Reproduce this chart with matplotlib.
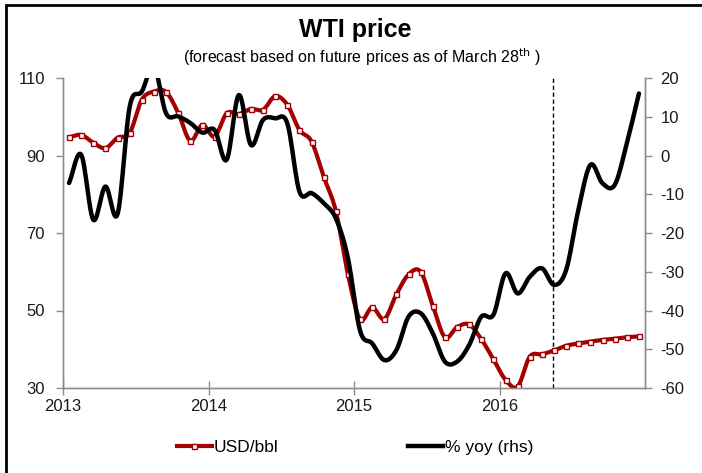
import numpy as np
import matplotlib
matplotlib.use("Agg")
import matplotlib.pyplot as plt
from matplotlib.lines import Line2D
from matplotlib.patches import Rectangle

plt.rcParams['font.family'] = ['Liberation Sans', 'DejaVu Sans']
plt.rcParams['axes.unicode_minus'] = False

# monthly data, Jan 2013 .. Dec 2016 (plotted at mid-month)
usd_bbl = [94.7, 95.3, 93.3, 91.9, 94.6, 95.8, 104.4, 106.5, 106.4, 101.0, 93.8, 97.9,
           94.9, 100.9, 100.7, 102.0, 101.8, 105.3, 103.1, 96.6, 93.6, 84.5, 75.7, 59.3,
           47.7, 50.8, 47.8, 54.2, 59.3, 60.0, 51.2, 43.1, 45.7, 46.4, 42.6, 37.4,
           32.1, 30.4, 38.1, 38.7, 39.7, 40.9, 41.5, 42.0, 42.4, 42.7, 43.1, 43.3]
yoy = [-7.1, 0.2, -16.6, -8.0, -15.1, 12.6, 16.5, 23.0, 10.9, 10.1, 8.4, 5.9,
       6.6, -1.1, 15.6, 2.7, 9.2, 9.6, 8.3, -9.3, -9.7, -12.3, -16.2, -26.5,
       -45.2, -48.5, -52.8, -50.2, -41.6, -40.7, -45.9, -53.2, -53.2, -48.9, -41.6, -41.1,
       -30.4, -35.6, -31.3, -29.1, -33.4, -29.5, -14.1, -2.4, -7.2, -7.6, 3.1, 16.0]
year_labels = ['2013', '2014', '2015', '2016']
forecast_start = 40.4  # months after Jan 2013

months = np.arange(len(usd_bbl)) + 0.5


def smooth(x, y, n=12):
    x = np.asarray(x, float); y = np.asarray(y, float)
    px = np.concatenate([[2 * x[0] - x[1]], x, [2 * x[-1] - x[-2]]])
    py = np.concatenate([[2 * y[0] - y[1]], y, [2 * y[-1] - y[-2]]])
    xs, ys = [], []
    t = np.linspace(0, 1, n, endpoint=False)
    for i in range(1, len(px) - 2):
        p0, p1, p2, p3 = py[i - 1], py[i], py[i + 1], py[i + 2]
        q0, q1, q2, q3 = px[i - 1], px[i], px[i + 1], px[i + 2]
        ys.append(0.5 * ((2 * p1) + (-p0 + p2) * t + (2 * p0 - 5 * p1 + 4 * p2 - p3) * t**2 + (-p0 + 3 * p1 - 3 * p2 + p3) * t**3))
        xs.append(0.5 * ((2 * q1) + (-q0 + q2) * t + (2 * q0 - 5 * q1 + 4 * q2 - q3) * t**2 + (-q0 + 3 * q1 - 3 * q2 + q3) * t**3))
    xs.append([x[-1]]); ys.append([y[-1]])
    return np.concatenate(xs), np.concatenate(ys)


W, H = 702, 473
fig = plt.figure(figsize=(W / 100, H / 100), dpi=100)
ax = fig.add_axes([63 / W, 1 - 388 / H, (645 - 63) / W, (388 - 78) / H])
ax2 = ax.twinx()

red = '#A50000'
gray = '#8C8C8C'

sx, sy = smooth(months, usd_bbl)
ax.plot(sx, sy, color=red, lw=3.0, zorder=3, solid_capstyle='round')
ax.plot(months, usd_bbl, ls='none', marker='s', ms=3.6, mfc='white', mec=red, mew=1.0, zorder=4)

bx, by = smooth(months, yoy)
ax2.plot(bx, by, color='black', lw=3.2, zorder=3, solid_capstyle='round')

ax.axvline(forecast_start, color='black', lw=1.0, ls=(0, (3, 2)), zorder=2)

ax.set_xlim(0, 48)
ax.set_ylim(30, 110)
ax2.set_ylim(-60, 20)
ax.set_yticks(np.arange(30, 111, 20))
ax2.set_yticks(np.arange(-60, 21, 10))
ax.set_xticks(np.arange(0, 48, 12))
ax.set_xticklabels(year_labels)

for a in (ax, ax2):
    a.spines['top'].set_visible(False)
    for s in ('left', 'right', 'bottom'):
        a.spines[s].set_color(gray)
        a.spines[s].set_linewidth(1.0)
    a.tick_params(colors=gray, labelcolor='#1a1a1a', labelsize=12, width=1.0, length=5)
ax.tick_params(axis='x', direction='inout', length=10, pad=3)
ax.tick_params(axis='y', direction='out', length=5, pad=8)
ax2.tick_params(axis='y', direction='out', length=5, pad=6)

fig.text(355 / W, 1 - 30 / H, 'WTI price', ha='center', va='center', fontsize=18, fontweight='bold')
fig.text(362 / W, 1 - 57 / H, '(forecast based on future prices as of March 28$^{\\mathrm{th}}$ )',
         ha='center', va='center', fontsize=11.5)

handles = [Line2D([], [], color=red, lw=3.0, marker='s', ms=3.6, mfc='white', mec=red, mew=1.0),
           Line2D([], [], color='black', lw=3.2)]
fig.legend(handles, ['USD/bbl', '% yoy (rhs)'], loc='center', bbox_to_anchor=(355 / W, 1 - 447 / H),
           ncol=2, frameon=False, fontsize=12.5, handlelength=2.0, handletextpad=0.1, columnspacing=7.5)

fig.patches.append(Rectangle((6 / W, -0.1), 1.2, 1.1 - 5 / H, transform=fig.transFigure,
                             fill=False, edgecolor='black', lw=2.0))

fig.savefig('out.png', dpi=100)
